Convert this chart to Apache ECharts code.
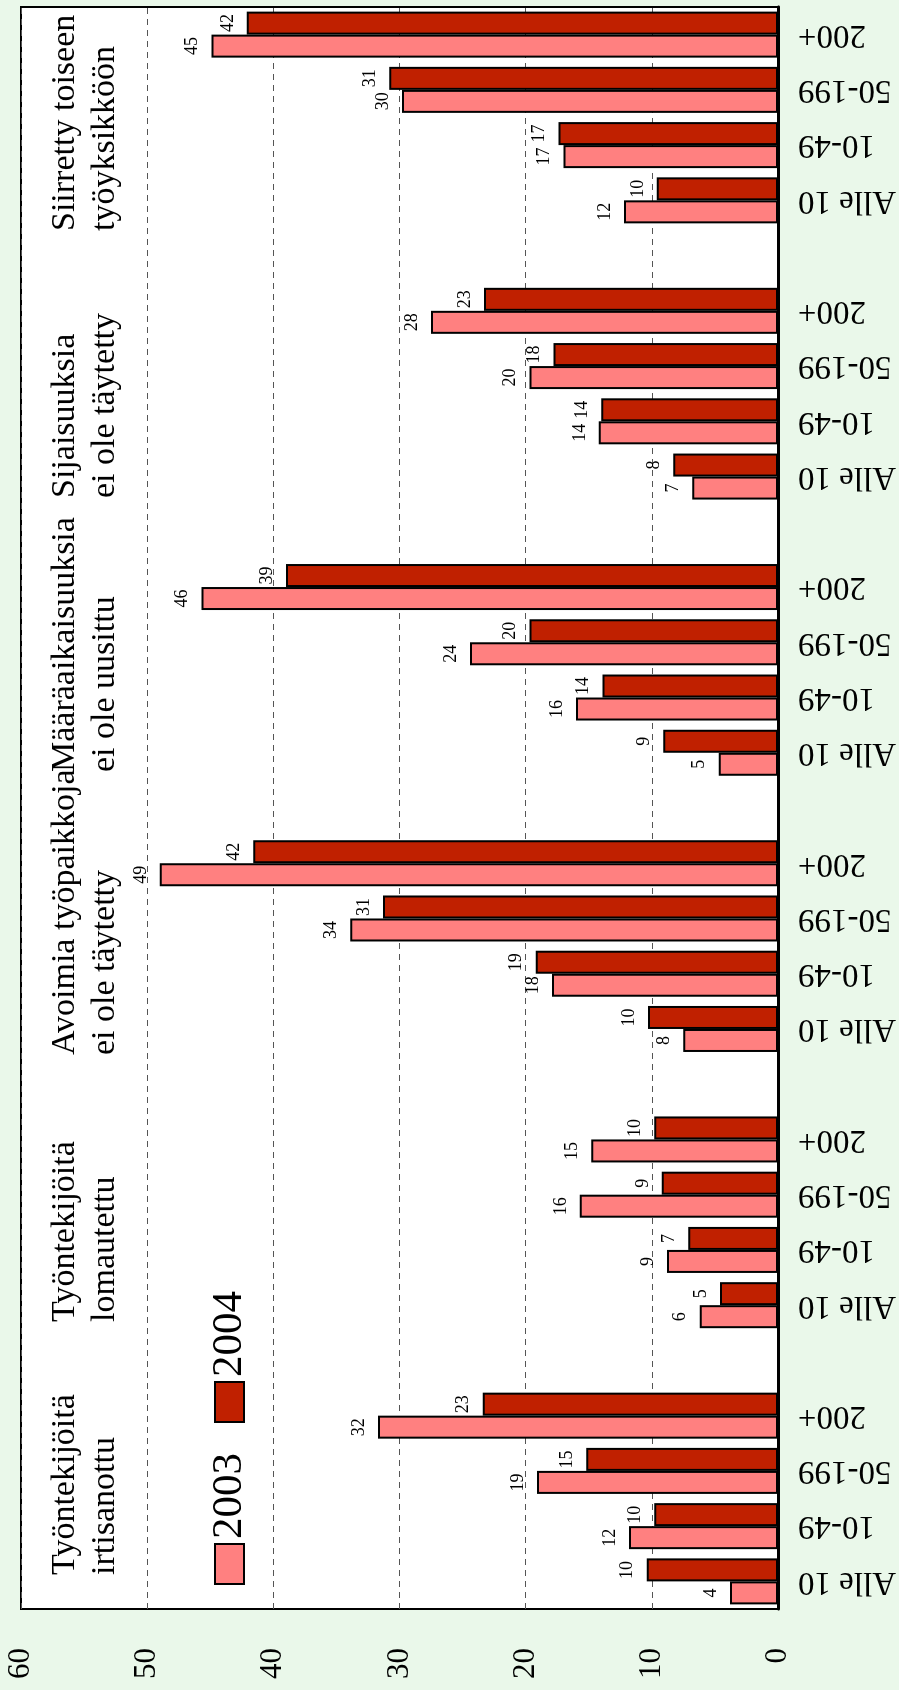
<!DOCTYPE html>
<html>
<head>
<meta charset="utf-8">
<script src="https://cdn.jsdelivr.net/npm/echarts@6/dist/echarts.min.js"></script>
<style>
  html, body { margin: 0; padding: 0; background: #EAF8EA; overflow: hidden; width: 899px; height: 1690px; }
  #chart { position: absolute; left: 0; top: 0; width: 1690px; height: 899px;
           transform-origin: 0 0; transform: translateY(1690px) rotate(-90deg); }
</style>
</head>
<body>
<div id="chart"></div>
<script>
// ---- data ----
const sizeClasses = ['Alle 10', '10-49', '50-199', '200+'];
const groupTitles = [
  'Työntekijöitä\nirtisanottu',
  'Työntekijöitä\nlomautettu',
  'Avoimia työpaikkoja\nei ole täytetty',
  'Määräaikaisuuksia\nei ole uusittu',
  'Sijaisuuksia\nei ole täytetty',
  'Siirretty toiseen\ntyöyksikköön'
];
const seriesNames = ['2003', '2004'];
// bar lengths (%)
const values2003 = [3.8, 11.8, 19.1, 31.7,  6.2, 8.8, 15.7, 14.8,  7.5, 17.9, 33.9, 49.0,
                    4.7, 16.0, 24.4, 45.7,  6.8, 14.2, 19.7, 27.5,  12.2, 17.0, 29.8, 44.9];
const values2004 = [10.4, 9.8, 15.2, 23.4,  4.6, 7.1, 9.2, 9.8,  10.3, 19.2, 31.3, 41.6,
                    9.1, 13.9, 19.7, 39.0,  8.3, 14.0, 17.8, 23.3,  9.6, 17.4, 30.8, 42.1];
// printed value labels
const labels2003 = [4, 12, 19, 32,  6, 9, 16, 15,  8, 18, 34, 49,  5, 16, 24, 46,  7, 14, 20, 28,  12, 17, 30, 45];
const labels2004 = [10, 10, 15, 23,  5, 7, 9, 10,  10, 19, 31, 42,  9, 14, 20, 39,  8, 14, 18, 23,  10, 17, 31, 42];
const valueTicks = [0, 10, 20, 30, 40, 50, 60];

// ---- build category axis with a blank slot between groups ----
const categories = [];
const dataIndexMap = [];   // category index -> index into value arrays (or -1)
groupTitles.forEach((t, g) => {
  sizeClasses.forEach((s, k) => { categories.push(s); dataIndexMap.push(g * sizeClasses.length + k); });
  if (g < groupTitles.length - 1) { categories.push(''); dataIndexMap.push(-1); }
});
const d2003 = dataIndexMap.map(i => i < 0 ? null : values2003[i]);
const d2004 = dataIndexMap.map(i => i < 0 ? null : values2004[i]);

const FONT = '"Liberation Serif", "Times New Roman", serif';
const chart = echarts.init(document.getElementById('chart'), null, { renderer: 'canvas' });

function labelFmt(arr) {
  return p => { const i = dataIndexMap[p.dataIndex]; return i < 0 ? '' : String(arr[i]); };
}

const titleLefts = [115, 368, 635, 918, 1192, 1459];

const option = {
  animation: false,
  backgroundColor: '#EAF8EA',
  textStyle: { fontFamily: FONT },
  grid: { left: 81, right: 7, top: 21, bottom: 120, show: true,
          backgroundColor: '#ffffff', borderColor: '#000', borderWidth: 2 },
  legend: {
    left: 105, top: 208, padding: 0, itemWidth: 40, itemHeight: 29, itemGap: 30,
    icon: 'rect', data: seriesNames,
    textStyle: { fontSize: 43, color: '#000', fontFamily: FONT }
  },
  xAxis: {
    type: 'category', data: categories,
    axisLine: { lineStyle: { color: '#000', width: 3 } },
    axisTick: { show: false },
    splitLine: { show: false },
    axisLabel: { interval: 0, rotate: 90, margin: 20, fontSize: 33, color: '#000', fontFamily: FONT }
  },
  yAxis: {
    type: 'value', min: valueTicks[0], max: valueTicks[valueTicks.length - 1], interval: 10,
    axisLine: { show: false }, axisTick: { show: false },
    axisLabel: { margin: 39, fontSize: 31, color: '#000', fontFamily: FONT },
    splitLine: { lineStyle: { type: [6, 5], color: '#555', width: 1.2 } }
  },
  series: [
    { name: seriesNames[0], type: 'bar', data: d2003, barWidth: 23, barGap: '0%',
      itemStyle: { color: '#FF8080', borderColor: '#000', borderWidth: 2 },
      label: { show: true, position: 'top', distance: 10, fontSize: 18, color: '#000',
               fontFamily: FONT, formatter: labelFmt(labels2003) } },
    { name: seriesNames[1], type: 'bar', data: d2004, barWidth: 23, barGap: '0%',
      itemStyle: { color: '#C02000', borderColor: '#000', borderWidth: 2 },
      label: { show: true, position: 'top', distance: 10, fontSize: 18, color: '#000',
               fontFamily: FONT, formatter: labelFmt(labels2004) } }
  ],
  graphic: groupTitles.map((t, g) => ({
    type: 'text', left: titleLefts[g], top: 45, z: 100,
    style: { text: t, fontSize: 34, fontFamily: FONT, fill: '#000', lineHeight: 40 }
  }))
};
chart.setOption(option);
</script>
</body>
</html>
